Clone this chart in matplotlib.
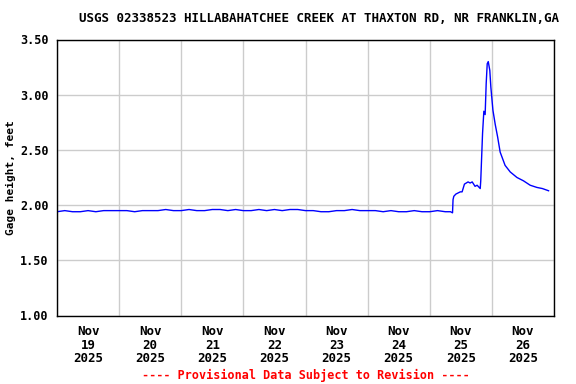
import matplotlib
matplotlib.use("Agg")
import matplotlib.pyplot as plt
import matplotlib.dates as mdates
import pandas as pd

# Gage height readings, hours after Nov 19 2025 00:00
base_hours = list(range(0, 151, 3))
base_values = [
    1.94, 1.95, 1.94, 1.94, 1.95, 1.94, 1.95, 1.95,
    1.95, 1.95, 1.94, 1.95, 1.95, 1.95, 1.96, 1.95,
    1.95, 1.96, 1.95, 1.95, 1.96, 1.96, 1.95, 1.96,
    1.95, 1.95, 1.96, 1.95, 1.96, 1.95, 1.96, 1.96,
    1.95, 1.95, 1.94, 1.94, 1.95, 1.95, 1.96, 1.95,
    1.95, 1.95, 1.94, 1.95, 1.94, 1.94, 1.95, 1.94,
    1.94, 1.95, 1.94,
]
event_hours = [152.0, 152.8, 153.0, 153.3, 154.1, 155.8, 156.5, 157.4, 158.1,
               158.8, 159.6, 160.4, 161.5, 162.3, 163.5, 163.7, 164.4, 164.9,
               165.4, 165.8, 166.2, 166.6, 167.2, 167.6, 168.4, 169.3, 170.2,
               171.2, 173.1, 175.1, 177.7, 180.2, 182.8, 185.4, 187.5, 189.9]
event_values = [1.94, 1.93, 2.05, 2.08, 2.10, 2.12, 2.12, 2.19, 2.20,
                2.21, 2.20, 2.21, 2.17, 2.18, 2.15, 2.22, 2.65, 2.85,
                2.82, 3.10, 3.28, 3.30, 3.22, 3.07, 2.86, 2.73, 2.62,
                2.48, 2.36, 2.30, 2.25, 2.22, 2.18, 2.16, 2.15, 2.13]

start = pd.Timestamp("2025-11-19")
hours = base_hours + event_hours
values = base_values + event_values
times = [start + pd.Timedelta(hours=h) for h in hours]

title = "USGS 02338523 HILLABAHATCHEE CREEK AT THAXTON RD, NR FRANKLIN,GA"
ylabel = "Gage height, feet"
footer = "---- Provisional Data Subject to Revision ----"
yticks = [1.00, 1.50, 2.00, 2.50, 3.00, 3.50]

font = "DejaVu Sans Mono"

fig = plt.figure(figsize=(5.76, 3.84), dpi=100)
ax = fig.add_axes([57 / 576, 1 - 315.5 / 384, (554 - 57) / 576, 276 / 384])

ax.plot(times, values, color="#0000FF", linewidth=1)

ax.set_xlim(start, start + pd.Timedelta(days=8))
ax.set_ylim(1.0, 3.5)

# grid at midnight, labels at noon
ax.xaxis.set_major_locator(mdates.DayLocator())
ax.xaxis.set_major_formatter(plt.NullFormatter())
ax.xaxis.set_minor_locator(mdates.HourLocator(byhour=12))
ax.xaxis.set_minor_formatter(mdates.DateFormatter("%b\n%d\n%Y"))
ax.set_yticks(yticks)
ax.set_yticklabels([f"{v:.2f}" for v in yticks])

ax.tick_params(which="both", length=0)
ax.tick_params(axis="x", which="minor", pad=7)
ax.tick_params(axis="y", pad=6)
for lab in ax.get_xticklabels(minor=True):
    lab.set_fontfamily(font)
    lab.set_fontweight("bold")
    lab.set_fontsize(9)
    lab.set_linespacing(1.05)
for lab in ax.get_yticklabels():
    lab.set_fontfamily(font)
    lab.set_fontweight("bold")
    lab.set_fontsize(8.5)

ax.grid(True, which="major", color="#CCCCCC", linewidth=1)
ax.set_axisbelow(True)
for s in ax.spines.values():
    s.set_color("black")
    s.set_linewidth(1)

ax.set_ylabel(ylabel, fontfamily=font, fontweight="bold", fontsize=8, labelpad=3)
fig.text(0.553, 1 - 19 / 384, title, ha="center", va="center",
         fontfamily=font, fontweight="bold", fontsize=9)
fig.text(0.531, 1 - 375 / 384, footer, ha="center", va="center",
         fontfamily=font, fontweight="bold", fontsize=8.5, color="red")

fig.savefig("out.png", dpi=100)
